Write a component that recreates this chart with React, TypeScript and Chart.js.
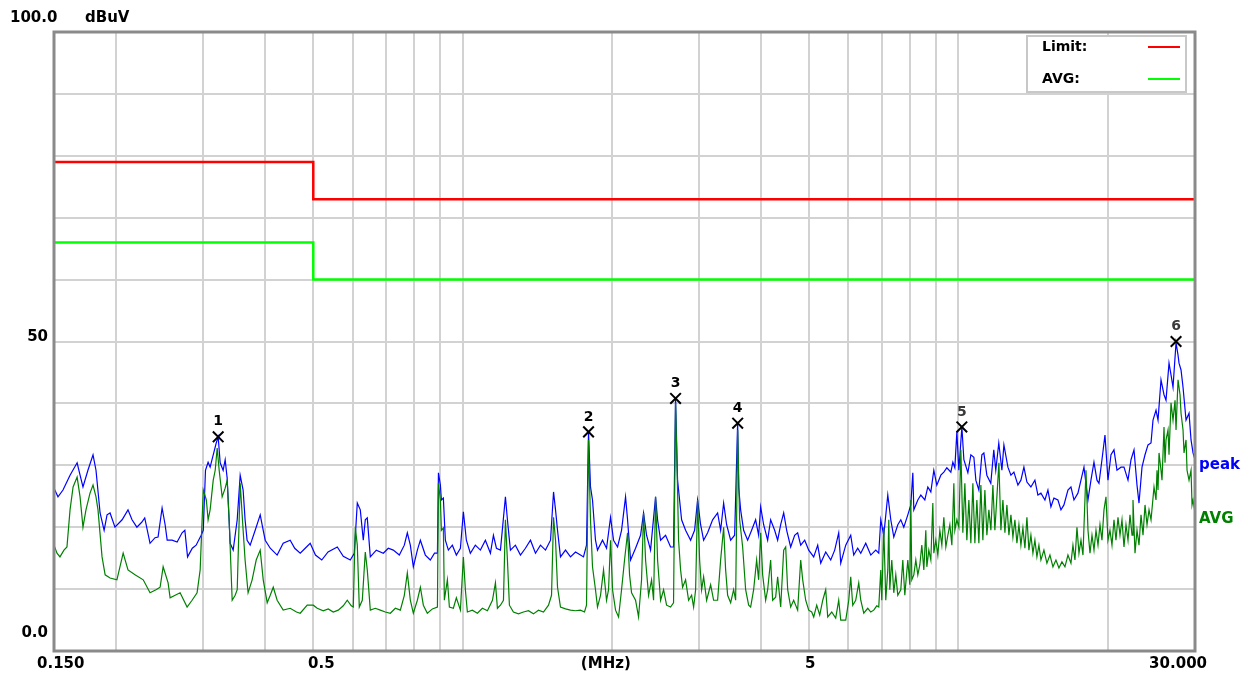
import React, { useEffect, useRef } from 'react';
import { Chart, registerables } from 'chart.js';

Chart.register(...registerables);

// ---- data (frequency in MHz, level in dBuV) ----
const peakTrace: [number, number][] = [
  [0.150,26.3],[0.1528,24.9],[0.1564,26.0],[0.1616,28.4],[0.1670,30.4],[0.1693,28.4],[0.1716,26.5],[0.1756,29.2],[0.1798,31.7],[0.1823,29.2],
  [0.1858,22.3],[0.1893,19.5],[0.1919,22.0],[0.1946,22.3],[0.1991,20.0],[0.2058,21.2],[0.2115,22.8],[0.2155,21.2],[0.2204,20.0],[0.2254,20.8],
  [0.2286,21.5],[0.2343,17.4],[0.2398,18.3],[0.2432,18.4],[0.2478,23.1],[0.2513,20.4],[0.2537,17.9],[0.2596,17.9],[0.2657,17.6],[0.2719,19.1],
  [0.2754,19.5],[0.2789,15.2],[0.2851,16.6],[0.2902,17.1],[0.2971,18.7],[0.3000,19.5],[0.3031,29.2],[0.3068,30.5],[0.3097,29.7],[0.3142,31.7],
  [0.3186,33.6],[0.3215,34.6],[0.3245,30.4],[0.3290,29.2],[0.3321,30.9],[0.3352,27.9],[0.3399,17.4],[0.3447,16.3],[0.3512,21.2],[0.3561,28.4],
  [0.3610,26.0],[0.3643,21.2],[0.3677,17.9],[0.3730,17.1],[0.3818,19.5],[0.3908,22.0],[0.3963,19.5],[0.4000,17.9],[0.4094,16.6],[0.4228,15.5],
  [0.4348,17.4],[0.4492,17.9],[0.4587,16.6],[0.4706,15.8],[0.4816,16.6],[0.4929,17.4],[0.5051,15.5],[0.5201,14.7],[0.5355,16.0],[0.5590,16.8],
  [0.5747,15.3],[0.5937,14.7],[0.6049,15.8],[0.6134,23.9],[0.6220,22.8],[0.6307,17.9],[0.6366,21.2],[0.6425,21.5],[0.6516,15.2],[0.6700,16.3],
  [0.6922,15.8],[0.7084,16.6],[0.7250,16.3],[0.7456,15.5],[0.7631,17.1],[0.7738,19.1],[0.7847,17.1],[0.7957,13.6],[0.8107,16.3],[0.8221,17.9],
  [0.8413,15.5],[0.8610,14.7],[0.8780,15.8],[0.8899,15.8],[0.8941,28.8],[0.9022,26.8],[0.9064,24.4],[0.9148,24.7],[0.9233,17.9],[0.9363,16.3],
  [0.9538,17.1],[0.9717,15.5],[0.9901,16.6],[1.0039,22.5],[1.0179,17.9],[1.0369,15.8],[1.0612,17.1],[1.0865,16.3],[1.1119,17.9],[1.1382,15.8],
  [1.1542,18.7],[1.1704,16.6],[1.1924,16.3],[1.2203,24.9],[1.2317,21.2],[1.2489,16.3],[1.2781,17.1],[1.3086,15.5],[1.3391,16.6],[1.3708,17.9],
  [1.4031,15.8],[1.4359,17.1],[1.4699,16.3],[1.5046,17.9],[1.5258,25.7],[1.5400,22.8],[1.5543,19.5],[1.5758,15.2],[1.6130,16.3],[1.6509,15.2],
  [1.6896,16.0],[1.7293,15.5],[1.7535,15.2],[1.7782,17.1],[1.7948,35.4],[1.8115,26.5],[1.8284,24.4],[1.8540,17.9],[1.8713,16.3],[1.9155,17.9],
  [1.9515,16.6],[1.9882,21.6],[2.0161,17.9],[2.0540,16.8],[2.0924,19.5],[2.1317,24.9],[2.1517,21.2],[2.1820,14.7],[2.2330,16.6],[2.2856,18.7],
  [2.3177,22.3],[2.3503,18.7],[2.3942,16.3],[2.4505,24.9],[2.4734,21.2],[2.5083,17.9],[2.5670,18.7],[2.6271,16.8],[2.6639,16.8],[2.6888,40.9],
  [2.7140,27.6],[2.7397,24.4],[2.7654,21.2],[2.8171,19.5],[2.8836,17.9],[2.9373,19.5],[2.9786,24.4],[3.0207,20.4],[3.0631,17.9],[3.1206,19.1],
  [3.1939,21.2],[3.2688,22.3],[3.3150,19.5],[3.3615,23.9],[3.4087,20.4],[3.4727,17.9],[3.5377,18.7],[3.5875,36.9],[3.6042,26.5],[3.6377,22.8],
  [3.6887,19.5],[3.7578,17.9],[3.8280,19.5],[3.8999,21.2],[3.9549,18.7],[3.9921,23.3],[4.0481,20.4],[4.1237,17.9],[4.1815,21.2],[4.2600,19.5],
  [4.3197,17.9],[4.3811,20.4],[4.4424,22.3],[4.5050,19.5],[4.5890,16.8],[4.6750,18.7],[4.7400,19.1],[4.8078,17.1],[4.8980,17.9],[4.9900,16.3],
  [5.1070,15.2],[5.2030,17.1],[5.2763,14.2],[5.4000,16.0],[5.5270,14.7],[5.6300,16.3],[5.7360,19.1],[5.7902,14.2],[5.9260,17.1],[6.0650,18.7],
  [6.1500,15.5],[6.2650,16.6],[6.3544,15.8],[6.5030,17.4],[6.6560,15.5],[6.8120,16.3],[6.9080,15.8],[6.9732,21.2],[7.0710,18.7],[7.2040,25.2],
  [7.3050,21.2],[7.4080,18.4],[7.5470,20.4],[7.6527,21.2],[7.7600,20.0],[7.9060,22.0],[8.0170,23.6],[8.0920,28.8],[8.1300,22.8],[8.2820,24.4],
  [8.3982,25.2],[8.5560,24.4],[8.6760,26.5],[8.7980,25.7],[8.9210,29.2],[9.0460,26.8],[9.2165,28.4],[9.3460,28.9],[9.4770,29.6],[9.6550,28.9],
  [9.7450,30.5],[9.8360,29.6],[9.9280,35.4],[10.021,29.2],[10.162,36.2],[10.257,30.9],[10.449,28.8],[10.595,31.7],[10.744,31.3],[10.844,27.6],
  [10.996,26.0],[11.151,31.7],[11.255,32.0],[11.412,28.4],[11.622,27.1],[11.785,32.5],[11.895,29.2],[12.062,33.6],[12.238,29.2],[12.352,33.3],
  [12.584,29.7],[12.761,28.4],[12.940,28.9],[13.183,26.8],[13.367,27.6],[13.555,29.7],[13.745,27.3],[14.002,26.5],[14.265,27.6],[14.465,25.2],
  [14.669,25.5],[14.944,24.4],[15.154,26.0],[15.366,23.3],[15.582,24.7],[15.874,24.4],[16.098,22.8],[16.324,23.6],[16.630,26.0],[16.863,26.5],
  [17.100,24.4],[17.420,25.5],[17.667,27.6],[17.915,29.7],[18.250,24.4],[18.506,27.6],[18.766,30.5],[19.030,27.6],[19.207,27.1],[19.476,30.9],
  [19.750,34.9],[20.027,27.6],[20.308,31.7],[20.593,32.5],[20.882,29.2],[21.275,29.7],[21.573,29.7],[21.978,27.6],[22.287,30.9],[22.600,32.5],
  [22.917,26.8],[23.131,23.9],[23.456,29.7],[23.785,31.7],[24.119,33.3],[24.457,33.6],[24.685,37.3],[25.032,38.9],[25.266,37.3],[25.619,43.8],
  [25.979,41.4],[26.222,40.5],[26.590,46.5],[26.838,44.6],[27.089,42.6],[27.470,49.8],[27.727,47.8],[27.855,46.5],[28.116,45.4],[28.378,42.6],
  [28.777,37.3],[29.180,38.4],[29.453,34.1],[29.728,32.0],[30.000,30.9],
];

const avgTrace: [number, number][] = [
  [0.150,17.1],[0.1521,15.8],[0.1542,15.2],[0.1571,16.3],[0.1593,16.8],[0.1616,22.8],[0.1639,26.5],[0.1670,28.1],[0.1693,24.9],[0.1716,20.0],
  [0.1740,22.8],[0.1773,25.5],[0.1798,26.8],[0.1823,24.9],[0.1840,22.8],[0.1875,15.2],[0.1902,12.3],[0.1946,11.8],[0.2009,11.5],[0.2068,15.8],
  [0.2115,13.1],[0.2185,12.3],[0.2270,11.5],[0.2343,9.4],[0.2409,9.9],[0.2455,10.3],[0.2490,13.6],[0.2548,11.0],[0.2572,8.6],[0.2633,9.0],
  [0.2694,9.4],[0.2783,7.1],[0.2848,8.2],[0.2915,9.4],[0.2957,13.1],[0.3000,26.0],[0.3043,24.4],[0.3068,21.2],[0.3097,22.8],[0.3142,27.6],
  [0.3171,29.2],[0.3200,32.8],[0.3230,29.2],[0.3275,24.9],[0.3321,26.3],[0.3352,27.6],[0.3383,21.2],[0.3431,8.2],[0.3479,9.0],[0.3512,9.9],
  [0.3561,27.1],[0.3610,19.5],[0.3643,14.7],[0.3694,9.4],[0.3764,11.5],[0.3836,14.7],[0.3908,16.3],[0.3963,11.5],[0.4037,7.8],[0.4094,9.0],
  [0.4152,10.3],[0.4228,8.2],[0.4348,6.6],[0.4492,6.9],[0.4625,6.3],[0.4706,6.1],[0.4861,7.4],[0.5000,7.4],[0.5093,6.9],[0.5237,6.5],
  [0.5360,6.8],[0.5486,6.3],[0.5615,6.6],[0.5747,7.3],[0.5855,8.2],[0.5965,7.3],[0.6021,7.1],[0.6077,20.0],[0.6134,17.1],[0.6191,7.1],
  [0.6278,8.2],[0.6366,16.0],[0.6425,13.1],[0.6516,6.6],[0.6669,6.9],[0.6826,6.6],[0.6986,6.3],[0.7151,6.1],[0.7319,6.9],[0.7491,6.6],
  [0.7631,9.0],[0.7738,12.6],[0.7847,8.2],[0.7957,6.1],[0.8107,8.2],[0.8221,10.3],[0.8336,7.4],[0.8492,6.1],[0.8694,6.8],[0.8899,7.1],
  [0.8941,27.1],[0.9022,24.4],[0.9064,19.5],[0.9148,19.9],[0.9190,8.2],[0.9320,11.5],[0.9407,7.1],[0.9582,6.9],[0.9717,8.6],[0.9901,6.6],
  [1.0039,15.2],[1.0132,9.9],[1.0227,6.3],[1.0465,6.6],[1.0713,6.1],[1.0966,6.9],[1.1224,6.5],[1.1489,8.2],[1.1650,11.0],[1.1758,6.9],
  [1.1924,7.4],[1.2092,8.2],[1.2203,21.2],[1.2317,14.7],[1.2431,7.4],[1.2664,6.3],[1.2964,6.0],[1.3269,6.3],[1.3582,6.5],[1.3901,6.0],
  [1.4226,6.6],[1.4562,6.3],[1.4906,7.4],[1.5116,9.0],[1.5258,21.6],[1.5400,17.9],[1.5543,10.3],[1.5758,7.1],[1.6130,6.8],[1.6509,6.6],
  [1.6896,6.5],[1.7293,6.6],[1.7617,6.3],[1.7782,7.4],[1.7948,34.1],[1.8115,21.2],[1.8284,13.6],[1.8540,9.9],[1.8713,7.1],[1.8978,9.0],
  [1.9245,13.1],[1.9515,8.2],[1.9698,9.9],[1.9882,17.9],[2.0068,9.9],[2.0350,6.6],[2.0636,5.5],[2.0924,9.9],[2.1217,14.7],[2.1517,19.1],
  [2.1718,12.3],[2.1922,9.4],[2.2330,8.2],[2.2644,5.5],[2.2962,11.5],[2.3177,22.3],[2.3394,14.7],[2.3722,9.0],[2.4055,11.5],[2.4280,8.2],
  [2.4505,24.9],[2.4734,14.7],[2.5083,8.2],[2.5435,9.9],[2.5790,7.4],[2.6271,7.1],[2.6639,7.8],[2.6888,40.1],[2.7140,26.0],[2.7267,17.9],
  [2.7525,13.1],[2.7782,10.3],[2.8171,11.5],[2.8568,8.2],[2.8970,9.0],[2.9241,7.1],[2.9514,9.9],[2.9786,24.4],[3.0067,14.7],[3.0348,9.9],
  [3.0631,12.0],[3.1061,8.2],[3.1646,10.7],[3.2088,8.2],[3.2688,8.2],[3.3150,14.7],[3.3615,20.0],[3.3928,13.1],[3.4245,9.0],[3.4727,7.8],
  [3.5213,9.9],[3.5542,8.2],[3.5875,35.7],[3.6209,21.2],[3.6717,16.8],[3.7231,9.9],[3.7754,7.4],[3.8106,7.1],[3.8640,9.9],[3.9181,14.7],
  [3.9549,11.5],[3.9921,19.1],[4.0293,12.3],[4.0857,8.2],[4.1237,9.9],[4.1815,14.7],[4.2205,8.2],[4.2799,8.7],[4.3197,12.0],[4.3811,7.1],
  [4.4424,16.3],[4.4840,16.8],[4.5258,9.9],[4.5890,7.1],[4.6534,8.2],[4.7400,6.6],[4.8078,14.7],[4.8527,11.5],[4.9206,8.2],[4.9900,6.6],
  [5.0600,6.3],[5.1070,5.5],[5.1790,7.4],[5.2520,5.8],[5.3260,8.2],[5.4000,9.9],[5.4510,5.5],[5.5530,6.3],[5.6560,5.3],[5.7360,8.2],
  [5.7902,5.0],[5.9260,5.0],[6.0100,8.2],[6.0650,12.0],[6.1220,7.4],[6.2070,8.2],[6.2950,11.0],[6.3544,8.2],[6.4440,6.1],[6.5640,6.9],
  [6.6560,6.3],[6.7490,6.6],[6.8440,7.3],[6.9080,7.1],
  [6.9732,13.1],[7.0057,8.2],[7.0711,20.0],[7.1372,8.2],[7.2039,13.1],[7.2374,21.2],[7.2711,9.9],[7.3391,14.7],[7.4076,9.4],[7.4768,12.3],
  [7.5467,9.0],[7.6527,9.9],[7.7242,14.7],[7.7963,9.0],[7.9059,14.7],[7.9798,10.7],[8.0169,24.4],[8.0543,11.5],[8.1295,12.3],[8.2054,14.7],
  [8.2820,12.3],[8.3594,13.9],[8.4373,17.1],[8.5161,13.1],[8.5957,19.5],[8.6358,13.6],[8.7164,16.3],[8.7979,14.7],[8.8800,23.9],[8.9214,15.8],
  [9.0048,17.9],[9.0889,15.5],[9.1738,19.5],[9.2595,17.1],[9.3459,21.6],[9.4333,16.8],[9.5214,18.7],[9.6103,20.4],[9.7001,17.1],[9.7907,27.1],
  [9.8363,19.5],[9.9282,21.2],[10.021,20.0],[10.114,32.5],[10.208,19.1],[10.304,27.1],[10.400,17.9],[10.497,24.4],[10.595,17.4],[10.694,27.1],
  [10.794,17.4],[10.895,24.4],[10.997,17.4],[11.099,26.8],[11.203,17.9],[11.308,26.0],[11.413,18.7],[11.520,22.8],[11.627,19.5],[11.736,26.8],
  [11.845,19.5],[11.956,24.9],[12.068,30.4],[12.181,19.5],[12.295,24.4],[12.410,19.1],[12.526,23.6],[12.643,18.7],[12.761,22.0],[12.880,18.4],
  [13.000,21.2],[13.122,17.4],[13.244,20.4],[13.367,17.1],[13.492,19.9],[13.618,16.6],[13.745,21.6],[13.873,16.3],[14.003,18.7],[14.134,15.8],
  [14.265,17.9],[14.398,15.2],[14.533,17.1],[14.669,14.7],[14.875,16.3],[15.083,14.2],[15.296,15.5],[15.511,13.6],[15.728,14.7],[15.949,13.4],
  [16.173,14.4],[16.400,13.6],[16.630,15.5],[16.864,14.2],[17.021,17.1],[17.180,14.7],[17.341,20.0],[17.503,15.8],[17.667,17.9],[17.832,15.5],
  [18.083,29.2],[18.252,19.5],[18.422,15.8],[18.594,18.7],[18.768,16.3],[18.943,19.5],[19.120,17.1],[19.298,20.4],[19.476,17.9],[19.659,22.8],
  [19.842,24.9],[20.027,17.9],[20.214,19.5],[20.403,17.1],[20.594,21.2],[20.786,17.9],[20.980,21.6],[21.177,18.7],[21.374,21.2],[21.573,16.8],
  [21.775,20.4],[21.979,17.9],[22.184,22.0],[22.391,18.7],[22.495,24.4],[22.706,15.8],[22.918,19.5],[23.131,17.1],[23.348,22.0],[23.566,18.7],
  [23.786,23.6],[24.008,20.4],[24.232,22.8],[24.459,21.2],[24.801,26.5],[25.032,24.4],[25.149,29.2],[25.266,26.0],[25.385,32.0],[25.619,29.2],
  [25.738,27.6],[25.979,36.2],[26.100,30.4],[26.222,34.1],[26.467,35.7],[26.590,31.7],[26.838,40.1],[27.089,37.3],[27.343,40.5],[27.470,35.7],
  [27.727,43.8],[27.986,41.4],[28.116,38.4],[28.378,35.7],[28.510,32.0],[28.777,34.1],[28.911,29.2],[29.180,27.6],[29.453,29.2],[29.590,23.6],
  [29.728,24.4],[30.000,22.3],
];

const limitFreq = [0.15, 0.5, 0.5, 30];
const qpLimit = [79, 79, 73, 73];
const avgLimit = [66, 66, 60, 60];

const markerFreq = [0.3215, 1.795, 2.689, 3.588, 10.16, 27.47];
const markerLevel = [34.6, 35.4, 40.8, 36.8, 36.2, 50.0];
const markerLabels = ['1', '2', '3', '4', '5', '6'];

const xGridValues = [0.15, 0.2, 0.3, 0.4, 0.5, 0.6, 0.7, 0.8, 0.9, 1, 2, 3, 4, 5, 6, 7, 8, 9, 10, 20, 30];
const xLabelValues = [0.15, 0.5, 2, 5, 30];
const xLabelTexts = ['0.150', '0.5', '(MHz)', '5', '30.000'];
const yLabelValues = [100, 50, 0];
const yLabelTexts = ['100.0', '50', '0.0'];
const yUnit = 'dBuV';

const FONT = '"DejaVu Sans", sans-serif';

const overlayPlugin = {
  id: 'emcOverlay',
  afterDatasetsDraw(chart: any) {
    const { ctx, chartArea: a, scales } = chart;
    const xs = scales.x;
    const ys = scales.y;
    ctx.save();

    // plot frame
    ctx.strokeStyle = '#8a8a8a';
    ctx.lineWidth = 3;
    ctx.strokeRect(a.left, a.top, a.right - a.left, a.bottom - a.top);

    // y labels
    ctx.fillStyle = '#000';
    ctx.font = `bold 15px ${FONT}`;
    ctx.textBaseline = 'middle';
    yLabelValues.forEach((v, i) => {
      const py = ys.getPixelForValue(v);
      if (i === 0) {
        ctx.textAlign = 'left';
        ctx.fillText(yLabelTexts[i], 10, py - 14);
        ctx.fillText(yUnit, 85, py - 14);
      } else {
        ctx.textAlign = 'right';
        ctx.fillText(yLabelTexts[i], a.left - 6, py - (v === 0 ? 18 : 4));
      }
    });

    // x labels
    xLabelValues.forEach((v, i) => {
      const px = xs.getPixelForValue(v);
      const ty = a.bottom + 13;
      if (i === 0) {
        ctx.textAlign = 'left';
        ctx.fillText(xLabelTexts[i], px - 17, ty);
      } else if (i === xLabelValues.length - 1) {
        ctx.textAlign = 'right';
        ctx.fillText(xLabelTexts[i], px + 12, ty);
      } else {
        ctx.textAlign = 'center';
        const dx = v === 0.5 ? 8 : v === 2 ? -6 : 1;
        ctx.fillText(xLabelTexts[i], px + dx, ty);
      }
    });

    // marker numbers
    ctx.textAlign = 'center';
    ctx.font = `bold 14px ${FONT}`;
    markerFreq.forEach((f, i) => {
      const px = xs.getPixelForValue(f);
      const py = ys.getPixelForValue(markerLevel[i]);
      ctx.fillStyle = i >= 4 ? '#3a3a3a' : '#000';
      ctx.fillText(markerLabels[i], px, py - 15);
    });

    // trace end labels
    ctx.textAlign = 'left';
    ctx.font = `bold 15px ${FONT}`;
    const lastPeak = peakTrace[peakTrace.length - 1];
    const lastAvg = avgTrace[avgTrace.length - 1];
    ctx.fillStyle = '#0000ff';
    ctx.fillText('peak', a.right + 4, ys.getPixelForValue(lastPeak[1]) + 5);
    ctx.fillStyle = '#008000';
    ctx.fillText('AVG', a.right + 4, ys.getPixelForValue(lastAvg[1]) + 6);

    // legend box
    const lx = a.right - 168;
    const ly = a.top + 4;
    const lw = 159;
    const lh = 56;
    ctx.fillStyle = '#ffffff';
    ctx.fillRect(lx, ly, lw, lh);
    ctx.strokeStyle = '#c8c8c8';
    ctx.lineWidth = 2;
    ctx.strokeRect(lx, ly, lw, lh);
    const legendItems = chart.data.datasets.filter((d: any) => d.isLimit);
    ctx.font = `bold 14px ${FONT}`;
    legendItems.forEach((d: any, i: number) => {
      const yy = ly + 11 + i * 32;
      ctx.fillStyle = '#000';
      ctx.textAlign = 'left';
      ctx.fillText(d.label, lx + 15, yy);
      ctx.strokeStyle = d.borderColor;
      ctx.lineWidth = 2;
      ctx.beginPath();
      ctx.moveTo(lx + 121, yy);
      ctx.lineTo(lx + 153, yy);
      ctx.stroke();
    });

    ctx.restore();
  },
};

export default function App() {
  const canvasRef = useRef<HTMLCanvasElement | null>(null);

  useEffect(() => {
    const canvas = canvasRef.current;
    if (!canvas) return;
    const toXY = (arr: [number, number][]) => arr.map(([x, y]) => ({ x, y }));
    const chart = new Chart(canvas, {
      type: 'line',
      data: {
        datasets: [
          {
            label: 'Markers',
            data: markerFreq.map((f, i) => ({ x: f, y: markerLevel[i] })),
            showLine: false,
            pointStyle: 'crossRot',
            pointRadius: 7.5,
            pointBorderColor: '#000',
            pointBackgroundColor: '#000',
            pointBorderWidth: 2,
            order: 0,
          } as any,
          {
            label: 'Limit:',
            isLimit: true,
            data: limitFreq.map((f, i) => ({ x: f, y: qpLimit[i] })),
            borderColor: '#ff0000',
            borderWidth: 2.5,
            pointRadius: 0,
            order: 1,
          } as any,
          {
            label: 'AVG:',
            isLimit: true,
            data: limitFreq.map((f, i) => ({ x: f, y: avgLimit[i] })),
            borderColor: '#00ff00',
            borderWidth: 2.5,
            pointRadius: 0,
            order: 1,
          } as any,
          {
            label: 'AVG',
            data: toXY(avgTrace),
            borderColor: '#008000',
            borderWidth: 1.2,
            pointRadius: 0,
            order: 2,
          },
          {
            label: 'peak',
            data: toXY(peakTrace),
            borderColor: '#0000ff',
            borderWidth: 1.2,
            pointRadius: 0,
            order: 3,
          },
        ],
      },
      options: {
        animation: false,
        responsive: false,
        maintainAspectRatio: false,
        layout: { padding: { top: 32, right: 54, left: 0, bottom: 0 } },
        plugins: { legend: { display: false }, tooltip: { enabled: false } },
        elements: { line: { tension: 0 } },
        scales: {
          x: {
            type: 'logarithmic',
            min: 0.15,
            max: 30,
            ticks: { display: false },
            border: { display: false },
            grid: { color: '#d2d2d2', lineWidth: 2, drawTicks: false },
            afterBuildTicks: (s: any) => {
              s.ticks = xGridValues.map((v) => ({ value: v }));
            },
            afterFit: (s: any) => {
              s.height = 28;
            },
          },
          y: {
            type: 'linear',
            min: 0,
            max: 100,
            ticks: { display: false, stepSize: 10 },
            border: { display: false },
            grid: { color: '#d2d2d2', lineWidth: 2, drawTicks: false },
            afterFit: (s: any) => {
              s.width = 54;
            },
          },
        },
      } as any,
      plugins: [overlayPlugin],
    });
    return () => chart.destroy();
  }, []);

  return (
    <div style={{ position: 'absolute', left: 0, top: 0, width: 1249, height: 679, background: '#fff' }}>
      <canvas ref={canvasRef} width={1249} height={679} style={{ width: 1249, height: 679, display: 'block' }} />
    </div>
  );
}
